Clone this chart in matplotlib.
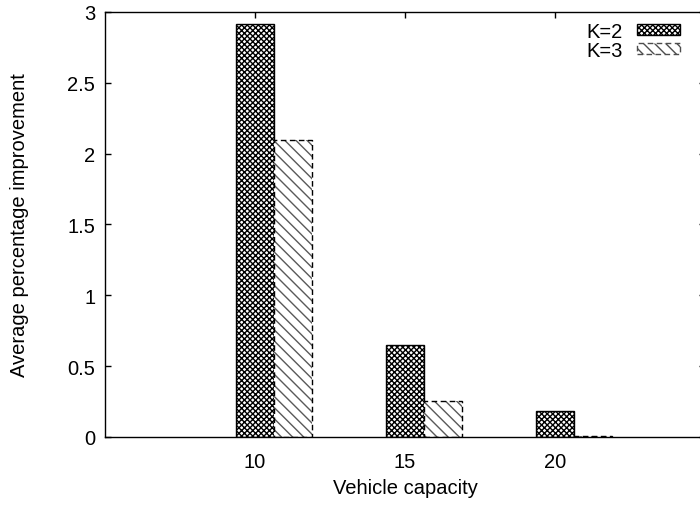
import numpy as np
import matplotlib
matplotlib.use("Agg")
from matplotlib import pyplot as plt
from matplotlib.patches import Patch

plt.rcParams["font.family"] = ["Liberation Sans", "DejaVu Sans"]
plt.rcParams["font.size"] = 14.5
plt.rcParams["hatch.linewidth"] = 1.0

# datos
capacidades = ["10", "15", "20"]
mejora_k2 = [2.915, 0.65, 0.183]
mejora_k3 = [2.096, 0.255, 0.005]

x = np.arange(len(capacidades))
ancho = 0.253

fig = plt.figure(figsize=(7.0, 5.06), dpi=100)
ax = fig.add_axes([0.15, 0.1344, 0.857, 0.84])

trama_k2 = "xxxxxx"
trama_k3 = "\\\\\\"

# K=2: cuadriculado denso con borde negro
ax.bar(x, mejora_k2, ancho, color="white", edgecolor="black",
       hatch=trama_k2, linewidth=1.0, zorder=2)

# K=3: rayado diagonal con borde punteado
ax.bar(x + ancho, mejora_k3, ancho, color="white", edgecolor="0.35",
       hatch=trama_k3, linewidth=0, zorder=2)
ax.bar(x + ancho, mejora_k3, ancho, fill=False, edgecolor="black",
       linestyle=(0, (4, 2.5)), linewidth=1.0, zorder=3)

leyenda = [Patch(facecolor="white", edgecolor="black", hatch=trama_k2, label="K=2"),
           Patch(facecolor="white", edgecolor="0.3", hatch=trama_k3,
                 linestyle=(0, (4, 2.5)), label="K=3")]
ax.legend(handles=leyenda, loc="upper right", bbox_to_anchor=(0.958, 0.977),
          frameon=False, markerfirst=False, borderpad=0, borderaxespad=0,
          handlelength=2.1, handleheight=0.45, handletextpad=0.75,
          labelspacing=0.0)

ax.set_xlim(-1, 3)
ax.set_ylim(0, 3)
ax.set_xticks(x)
ax.set_xticklabels(capacidades)
ax.set_yticks([0, 0.5, 1, 1.5, 2, 2.5, 3])
ax.set_yticklabels(["0", "0.5", "1", "1.5", "2", "2.5", "3"])
ax.tick_params(direction="in", length=4.5, width=1.0, top=True, right=True)
ax.tick_params(axis="x", pad=11)
ax.tick_params(axis="y", pad=7)

ax.set_xlabel("Vehicle capacity", labelpad=5)
ax.set_ylabel("Average percentage improvement", labelpad=28)

for s in ax.spines.values():
    s.set_linewidth(1.0)

fig.savefig("out.png", dpi=100)
